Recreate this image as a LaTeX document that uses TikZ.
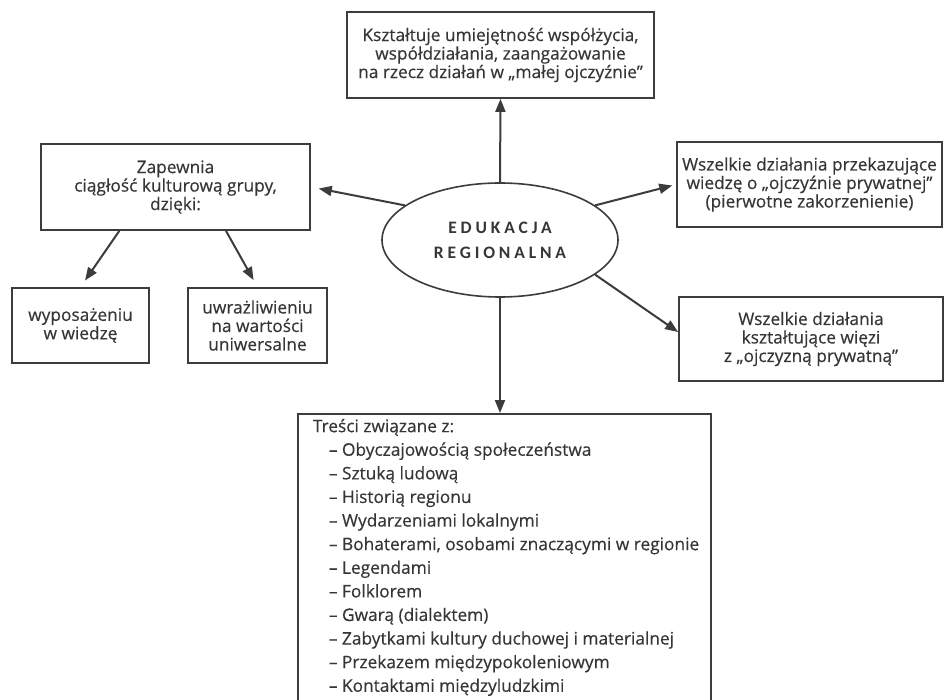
\documentclass[tikz,border=0pt]{standalone}
\usepackage{fontspec}
\setmainfont{Open Sans}[FakeBold=0.35]
\newfontfamily\ellfont{Carlito}[LetterSpace=22]
\usetikzlibrary{arrows.meta,shapes.geometric}
\definecolor{ink}{HTML}{363636}
\definecolor{edge}{HTML}{3C3C3C}
\newcommand{\itemline}[1]{\mbox{\hspace*{16pt}– #1}}
\tikzset{
  box/.style={draw=edge, line width=1.8pt, rectangle, align=center, text=ink,
    inner sep=0pt, font=\fontsize{17.3}{18.5}\selectfont},
  conn/.style={draw=edge, line width=2pt, -{Triangle[length=13pt,width=10pt]}},
}
\begin{document}
\begin{tikzpicture}[x=1pt,y=-1pt]
\useasboundingbox (0,0) rectangle (944,700);
\clip (0,0) rectangle (944,700);
\fill[white] (0,0) rectangle (944,700);

\node[draw=edge, line width=1.6pt, ellipse, minimum width=236pt, minimum height=114pt, inner sep=0pt,
  align=center, text=ink, font=\ellfont\fontsize{17.5}{25}\selectfont\bfseries]
  (ell) at (500,240) {EDUKACJA\\REGIONALNA};

\node[box, minimum width=307pt, minimum height=86pt] (top) at (500.5,55)
  {Kształtuje umiejętność współżycia,\\współdziałania, zaangażowanie\\na rzecz działań w „małej ojczyźnie”};

\node[box, minimum width=269pt, minimum height=86pt] (lb) at (175.5,187)
  {Zapewnia\\ciągłość kulturową grupy,\\dzięki:};

\node[box, minimum width=137pt, minimum height=75pt] (b1) at (80.5,325.5)
  {wyposażeniu\\w wiedzę};

\node[box, minimum width=139pt, minimum height=75pt] (b2) at (257.5,325.5)
  {uwrażliwieniu\\na wartości\\uniwersalne};

\node[box, minimum width=265pt, minimum height=85pt] (rb1) at (809.5,184.5)
  {Wszelkie działania przekazujące\\wiedzę o „ojczyźnie prywatnej”\\(pierwotne zakorzenienie)};

\node[box, minimum width=264pt, minimum height=84pt] (rb2) at (811,339)
  {Wszelkie działania\\kształtujące więzi\\z „ojczyzną prywatną”};

\node[box, align=none, anchor=north west, inner xsep=15pt, inner ysep=5pt] (bot) at (297,413)
  {\parbox[t][300pt][t]{383pt}{\fontsize{17.3}{23.6}\selectfont\raggedright
   Treści związane z:\\
   \itemline{Obyczajowością społeczeństwa}\\
   \itemline{Sztuką ludową}\\
   \itemline{Historią regionu}\\
   \itemline{Wydarzeniami lokalnymi}\\
   \itemline{Bohaterami, osobami znaczącymi w regionie}\\
   \itemline{Legendami}\\
   \itemline{Folklorem}\\
   \itemline{Gwarą (dialektem)}\\
   \itemline{Zabytkami kultury duchowej i materialnej}\\
   \itemline{Przekazem międzypokoleniowym}\\
   \itemline{Kontaktami międzyludzkimi}\par}};

\draw[conn] (ell.north) -- (top.south);
\draw[conn, shorten >=8pt] (ell.160) -- (lb.east);
\draw[conn, shorten >=4pt] (ell.20) -- (rb1.west);
\draw[conn] (ell.-20) -- (rb2.177);
\draw[conn] (ell.south) -- (ell.south |- bot.north);
\draw[conn, shorten >=8pt] (lb.218) -- (b1.north);
\draw[conn, shorten >=8pt] (lb.-41) -- (b2.north);
\end{tikzpicture}
\end{document}
